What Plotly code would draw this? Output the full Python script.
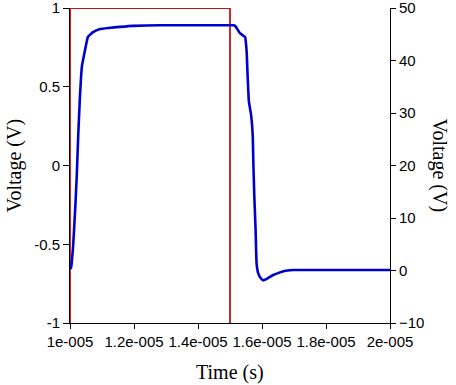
import plotly.graph_objects as go

# Data
t_us = [10.00, 10.03, 10.10, 10.16, 10.21, 10.26, 10.31, 10.37, 10.47, 10.56, 10.72, 10.94,
        11.20, 11.56, 11.97, 12.8, 13.5, 14.5, 15.10, 15.16, 15.31, 15.42, 15.47, 15.52,
        15.55, 15.59, 15.66, 15.71, 15.73, 15.76, 15.80, 15.83, 15.88, 15.95, 16.04, 16.15,
        16.25, 16.35, 16.50, 16.62, 16.80, 16.98, 18.0, 19.0, 20.0]
blue_v = [0.3, 0.5, 4.9, 11.5, 17.8, 26.2, 33.0, 38.8, 42.0, 44.5, 45.4, 46.0,
          46.2, 46.4, 46.6, 46.7, 46.7, 46.7, 46.7, 46.6, 45.2, 44.7, 44.5, 41.7,
          37.2, 32.2, 29.6, 25.8, 20.4, 14.1, 7.7, 1.4, -0.5, -1.4, -1.9, -1.6,
          -1.2, -0.86, -0.5, -0.23, 0.0, 0.1, 0.1, 0.1, 0.1]
t_blue = [v * 1e-6 for v in t_us]

t_red = [1e-5, 1e-5, 1.5e-5, 1.5e-5]
red_v = [-1, 1, 1, -1]

x_ticks = [1e-5, 1.2e-5, 1.4e-5, 1.6e-5, 1.8e-5, 2e-5]
x_labels = ["1e-005", "1.2e-005", "1.4e-005", "1.6e-005", "1.8e-005", "2e-005"]
y1_ticks = [-1, -0.5, 0, 0.5, 1]
y1_labels = ["-1", "-0.5", "0", "0.5", "1"]
y2_ticks = [-10, 0, 10, 20, 30, 40, 50]

tick_font = dict(family="Liberation Sans, Arial, sans-serif", size=15, color="black")
title_font = dict(family="Liberation Serif, Times New Roman, serif", size=20, color="black")

fig = go.Figure()
fig.add_trace(go.Scatter(x=t_red, y=red_v, mode="lines",
                         line=dict(color="#C41414", width=1.8), yaxis="y", showlegend=False))
fig.add_trace(go.Scatter(x=t_blue, y=blue_v, mode="lines",
                         line=dict(color="#0000CC", width=2.6, shape="spline", smoothing=0.3),
                         yaxis="y2", showlegend=False))

common = dict(showgrid=False, zeroline=False, showline=True, linecolor="black", linewidth=1,
              ticks="outside", tickcolor="black", tickfont=tick_font,
              layer="below traces", automargin=False, ticklabeloverflow="allow")

fig.update_layout(
    width=456, height=385,
    margin=dict(l=70, r=66, t=8, b=62),
    paper_bgcolor="white", plot_bgcolor="white",
    xaxis=dict(range=[1e-5, 2e-5], tickvals=x_ticks, ticktext=x_labels, ticklen=5, **common),
    yaxis=dict(range=[-1, 1], tickvals=y1_ticks, ticktext=y1_labels, ticklen=6, **common),
    yaxis2=dict(range=[-10, 50], tickvals=y2_ticks, overlaying="y", side="right",
                ticklen=5, **common),
    annotations=[
        dict(text="Time (s)", x=0.5, y=-0.156, xref="paper", yref="paper",
             showarrow=False, font=title_font, xanchor="center", yanchor="middle"),
        dict(text="Voltage (V)", x=-0.172, y=0.5, xref="paper", yref="paper",
             showarrow=False, font=title_font, textangle=-90, xanchor="center", yanchor="middle"),
        dict(text="Voltage (V)", x=1.156, y=0.5, xref="paper", yref="paper",
             showarrow=False, font=title_font, textangle=90, xanchor="center", yanchor="middle"),
    ],
)

fig.write_html("out.html", config={"displayModeBar": False},
               post_script="document.body.style.margin='0';")
